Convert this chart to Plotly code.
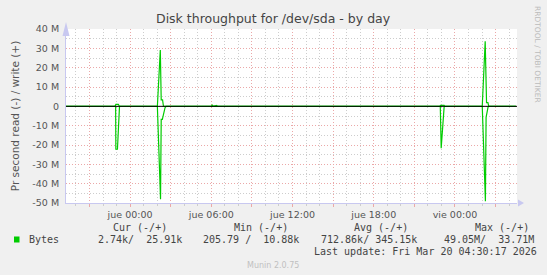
import plotly.graph_objects as go

# ---------------- data ----------------
write_times = [
    "2026-03-18 19:16", "2026-03-18 22:53", "2026-03-18 22:57", "2026-03-18 23:08", "2026-03-18 23:13",
    "2026-03-19 02:01", "2026-03-19 02:14", "2026-03-19 02:18", "2026-03-19 02:24", "2026-03-19 02:28",
    "2026-03-19 06:01", "2026-03-19 06:04", "2026-03-19 06:08", "2026-03-19 06:24", "2026-03-19 06:26",
    "2026-03-19 06:30", "2026-03-19 09:55", "2026-03-19 09:57", "2026-03-19 10:00",
    "2026-03-19 22:53", "2026-03-19 22:56", "2026-03-19 23:12", "2026-03-19 23:15",
    "2026-03-20 02:01", "2026-03-20 02:14", "2026-03-20 02:20", "2026-03-20 02:26", "2026-03-20 02:30",
    "2026-03-20 04:30",
]
write_mb = [
    0.02, 0.02, 1.0, 1.0, 0.05,
    0.05, 29.1, 3.3, 3.3, 0.05,
    0.05, 0.8, 0.05, 0.5, 0.05,
    0.05, 0.05, 0.4, 0.05,
    0.02, 0.5, 0.5, 0.02,
    0.05, 33.71, 1.9, 1.9, 0.03,
    0.026,
]

read_times = [
    "2026-03-18 19:16", "2026-03-18 22:56", "2026-03-18 22:57", "2026-03-18 23:04", "2026-03-18 23:13", "2026-03-18 23:16",
    "2026-03-19 02:01", "2026-03-19 02:15", "2026-03-19 02:18", "2026-03-19 02:23", "2026-03-19 02:35", "2026-03-19 02:40",
    "2026-03-19 22:55", "2026-03-19 22:56", "2026-03-19 22:59", "2026-03-19 23:12", "2026-03-19 23:15",
    "2026-03-20 02:01", "2026-03-20 02:15", "2026-03-20 02:18", "2026-03-20 02:27", "2026-03-20 02:32",
    "2026-03-20 04:30",
]
read_mb = [
    0.02, 0.02, 22.2, 22.2, 0.3, 0.02,
    0.05, 48.1, 6.7, 6.7, 0.7, 0.02,
    0.02, 21.7, 21.7, 0.3, 0.02,
    0.05, 49.05, 5.7, 0.2, 0.02,
    0.00274,
]

y_tick_vals = [40, 30, 20, 10, 0, -10, -20, -30, -40, -50]
y_tick_text = ["40 M", "30 M", "20 M", "10 M", "0", "-10 M", "-20 M", "-30 M", "-40 M", "-50 M"]

x_tick_vals = ["2026-03-18 21:00", "2026-03-19 00:00", "2026-03-19 03:00", "2026-03-19 06:00",
               "2026-03-19 09:00", "2026-03-19 12:00", "2026-03-19 15:00", "2026-03-19 18:00",
               "2026-03-19 21:00", "2026-03-20 00:00", "2026-03-20 03:00"]
x_tick_text = ["", "jue 00:00", "", "jue 06:00", "", "jue 12:00", "", "jue 18:00", "", "vie 00:00", ""]

x_range = ["2026-03-18 19:16", "2026-03-20 04:35"]

legend_name = "Bytes"
col_headers = ["Cur (-/+)", "Min (-/+)", "Avg (-/+)", "Max (-/+)"]
col_values = ["2.74k/  25.91k", "205.79 /  10.88k", "712.86k/ 345.15k", "49.05M/  33.71M"]
last_update = "Last update: Fri Mar 20 04:30:17 2026"

# ---------------- layout helpers ----------------
W, H = 547, 275
L, R, T, B = 66, 517, 29, 203
GREEN = "#00CC00"
AXIS = "#C8C8F0"
MAJOR = "#EBA8A8"
MINOR = "#CDCDCD"
DASH = "1px,2px"
TXT = "#444444"


def px(x):
    return (x - L) / (R - L)


def py(y):
    return (B - y) / (B - T)


fig = go.Figure()
fig.add_trace(go.Scatter(x=write_times, y=[v * 1e6 for v in write_mb], mode="lines",
                         line=dict(color=GREEN, width=1.2), showlegend=False, hoverinfo="skip"))
fig.add_trace(go.Scatter(x=read_times, y=[-v * 1e6 for v in read_mb], mode="lines",
                         line=dict(color=GREEN, width=1.2), showlegend=False, hoverinfo="skip"))

fig.update_layout(
    width=W, height=H,
    margin=dict(l=L, r=W - R, t=T, b=H - B, pad=0),
    paper_bgcolor="#F0F0F0", plot_bgcolor="#FFFFFF",
    font=dict(family="DejaVu Sans", size=10, color="#555555"),
    showlegend=False,
    xaxis=dict(
        type="date", range=x_range, tickmode="array", tickvals=x_tick_vals, ticktext=x_tick_text,
        showgrid=True, gridcolor=MAJOR, griddash=DASH, gridwidth=1,
        showline=True, linecolor=AXIS, linewidth=1, zeroline=False,
        ticks="outside", ticklen=3, tickcolor=MAJOR,
        tickfont=dict(family="DejaVu Sans", size=9.5, color="#555555"),
        minor=dict(tickmode="linear", tick0="2026-03-19 00:00", dtick=3600000,
                   showgrid=True, gridcolor=MINOR, griddash=DASH, gridwidth=1,
                   ticks="outside", ticklen=2, tickcolor=MINOR),
        fixedrange=True,
    ),
    yaxis=dict(
        range=[-50e6, 40e6], tickmode="array", tickvals=[v * 1e6 for v in y_tick_vals], ticktext=y_tick_text,
        showgrid=True, gridcolor=MAJOR, griddash=DASH, gridwidth=1,
        showline=True, linecolor=AXIS, linewidth=1,
        zeroline=False,
        ticks="", ticklabelstandoff=4,
        tickfont=dict(family="DejaVu Sans", size=9.5, color="#555555"),
        minor=dict(tickmode="linear", tick0=0, dtick=5e6, showgrid=True,
                   gridcolor=MINOR, griddash=DASH, gridwidth=1),
        title=dict(text="Pr second read (-) / write (+)", standoff=10,
                   font=dict(family="DejaVu Sans", size=10.5, color="#555555")),
        fixedrange=True,
    ),
)

# black zero rule drawn above the data
fig.add_shape(type="line", xref="paper", yref="y", x0=0, x1=1, y0=0, y1=0,
              line=dict(color="#000000", width=1), layer="above")

# axis arrows
fig.add_shape(type="path", xref="paper", yref="paper",
              path=f"M {px(L-3.5)} {py(B-167)} L {px(L+3.5)} {py(B-167)} L {px(L)} {py(B-181)} Z",
              fillcolor=AXIS, line=dict(width=0))
fig.add_shape(type="path", xref="paper", yref="paper",
              path=f"M {px(R+1)} {py(B-3.5)} L {px(R+1)} {py(B+3.5)} L {px(R+7)} {py(B)} Z",
              fillcolor=AXIS, line=dict(width=0))

# title
fig.add_annotation(text="Disk throughput for /dev/sda - by day", x=px(273), y=py(18.5),
                   xref="paper", yref="paper", xanchor="center", yanchor="middle", showarrow=False,
                   font=dict(family="DejaVu Sans", size=12.5, color="#444444"))

# right vertical credit
fig.add_annotation(text="RRDTOOL / TOBI OETIKER", x=px(538), y=py(54),
                   xref="paper", yref="paper", xanchor="center", yanchor="middle", showarrow=False,
                   textangle=90, font=dict(family="DejaVu Sans", size=7.5, color="#BBBBBB"))

# legend block
mono = dict(family="DejaVu Sans Mono", size=10, color=TXT)
header_x = [111, 231.7, 352, 472.7]
value_x = [95.7, 201, 318.7, 442.3]
for hx, h in zip(header_x, col_headers):
    fig.add_annotation(text=h, x=px(hx), y=py(227.7), xref="paper", yref="paper",
                       xanchor="left", yanchor="middle", showarrow=False, font=mono)
for vx, v in zip(value_x, col_values):
    fig.add_annotation(text=v.replace(" ", "&nbsp;"), x=px(vx), y=py(239.3), xref="paper", yref="paper",
                       xanchor="left", yanchor="middle", showarrow=False, font=mono)
fig.add_annotation(text=legend_name, x=px(26.7), y=py(239.3), xref="paper", yref="paper",
                   xanchor="left", yanchor="middle", showarrow=False, font=mono)
fig.add_shape(type="rect", xref="paper", yref="paper",
              x0=px(14), x1=px(19.5), y0=py(242.5), y1=py(236.5),
              fillcolor=GREEN, line=dict(width=0))
fig.add_annotation(text=last_update, x=px(311.7), y=py(251), xref="paper", yref="paper",
                   xanchor="left", yanchor="middle", showarrow=False, font=mono)
fig.add_annotation(text="Munin 2.0.75", x=px(273), y=py(265), xref="paper", yref="paper",
                   xanchor="center", yanchor="middle", showarrow=False,
                   font=dict(family="DejaVu Sans", size=8, color="#C0C0C0"))

fig.write_html("out.html")
